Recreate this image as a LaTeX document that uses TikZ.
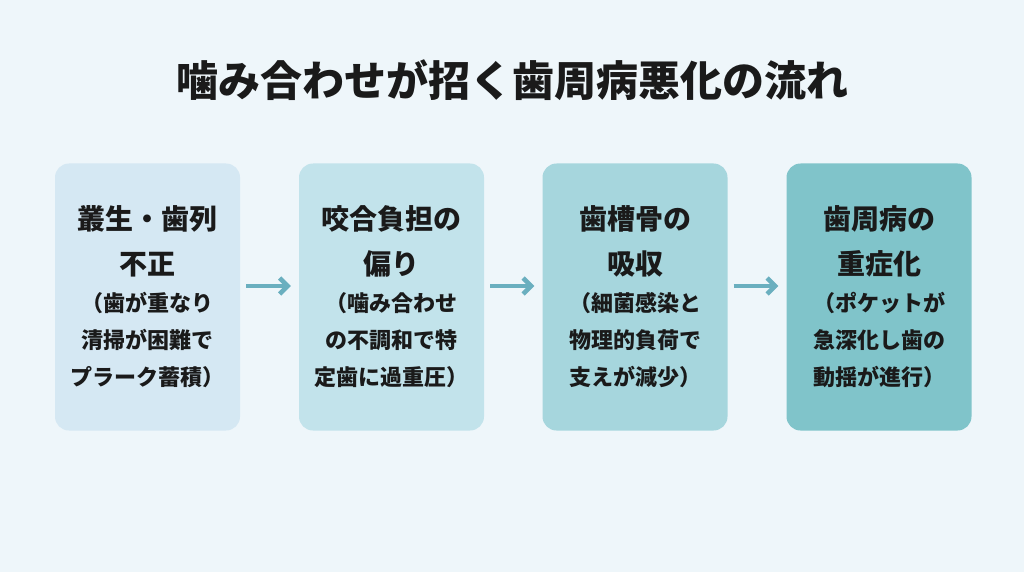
\documentclass[tikz,border=0pt]{standalone}
\usepackage{fontspec}
\setmainfont{Noto Sans CJK JP}
\usetikzlibrary{positioning,arrows.meta}
\definecolor{bgcol}{HTML}{EEF6FA}
\definecolor{boxA}{HTML}{D5E8F3}
\definecolor{boxB}{HTML}{C2E3EB}
\definecolor{boxC}{HTML}{A6D6DD}
\definecolor{boxD}{HTML}{80C4CA}
\definecolor{arrcol}{HTML}{6AAFBF}
\definecolor{txtcol}{HTML}{1A1A1A}
\tikzset{
  stage/.style={rounded corners=14pt, minimum width=185pt, minimum height=267pt,
    text width=179pt, align=center, text=txtcol, font=\bfseries, inner sep=3pt},
  flow/.style={arrcol, line width=4.5pt, -{Straight Barb[length=8pt,width=16pt]}},
}
\newcommand{\head}{\fontsize{28}{45}\selectfont}
\newcommand{\note}{\fontsize{22}{37}\selectfont}
\begin{document}
\begin{tikzpicture}[x=1pt,y=-1pt]
  \fill[bgcol] (0,0) rectangle (1024,572);
  \useasboundingbox (0,0) rectangle (1024,572);

  \node[font=\bfseries\fontsize{42}{48}\selectfont, text=txtcol] (title) at (512,80)
    {噛み合わせが招く歯周病悪化の流れ};

  \node[stage, fill=boxA] (s1) at (147.5,297)
    {\head 叢生・歯列\\不正\par\note （歯が重なり\\清掃が困難で\\プラーク蓄積）\par};
  \node[stage, fill=boxB] (s2) at (391.5,297)
    {\head 咬合負担の\\偏り\par\note （噛み合わせ\\の不調和で特\\定歯に過重圧）\par};
  \node[stage, fill=boxC] (s3) at (635,297)
    {\head 歯槽骨の\\吸収\par\note （細菌感染と\\物理的負荷で\\支えが減少）\par};
  \node[stage, fill=boxD] (s4) at (879,297)
    {\head 歯周病の\\重症化\par\note （ポケットが\\急深化し歯の\\動揺が進行）\par};

  \draw[flow] ([xshift=6pt,yshift=11pt]s1.east) -- ([xshift=-8pt,yshift=11pt]s2.west);
  \draw[flow] ([xshift=6pt,yshift=11pt]s2.east) -- ([xshift=-8pt,yshift=11pt]s3.west);
  \draw[flow] ([xshift=6pt,yshift=11pt]s3.east) -- ([xshift=-8pt,yshift=11pt]s4.west);
\end{tikzpicture}
\end{document}
